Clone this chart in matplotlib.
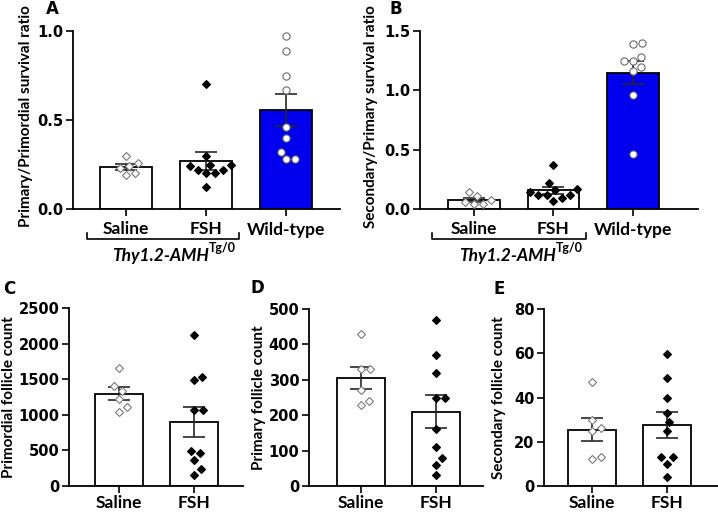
import numpy as np
import matplotlib
matplotlib.use("Agg")
import matplotlib.pyplot as plt
from matplotlib.transforms import blended_transform_factory

plt.rcParams["font.family"] = ["Lato", "DejaVu Sans"]
plt.rcParams["font.weight"] = "bold"

groups_top = ["Saline", "FSH", "Wild-type"]
groups_bottom = ["Saline", "FSH"]

# A: primary / primordial survival ratio
a_saline = [0.19, 0.20, 0.23, 0.24, 0.26, 0.30]
a_fsh = [0.70, 0.30, 0.25, 0.24, 0.245, 0.22, 0.22, 0.20, 0.20, 0.125]
a_wt = [0.97, 0.89, 0.75, 0.67, 0.46, 0.40, 0.32, 0.28, 0.28]

# B: secondary / primary survival ratio
b_saline = [0.11, 0.14, 0.06, 0.04, 0.04, 0.08]
b_fsh = [0.37, 0.22, 0.17, 0.16, 0.12, 0.12, 0.12, 0.14, 0.09, 0.065]
b_wt = [1.39, 1.40, 1.28, 1.25, 1.25, 1.20, 1.16, 0.96, 0.46]

# C-E: follicle counts
c_saline = [1655, 1410, 1340, 1220, 1110, 1045]
c_fsh = [2115, 1535, 1485, 1065, 1065, 495, 470, 370, 235, 155]
d_saline = [430, 330, 330, 270, 240, 230]
d_fsh = [470, 370, 320, 250, 250, 160, 110, 80, 60, 30]
e_saline = [47, 30, 26, 25, 13, 12]
e_fsh = [59.5, 49, 40, 33, 29, 25, 13, 13, 10, 4]

BLUE = "#0000ee"
open_diamond = dict(marker="D", ms=4.2, mfc="white", mec="#7a7a7a", mew=0.8)
black_diamond = dict(marker="D", ms=4.2, mfc="black", mec="black", mew=0.8)
open_circle = dict(marker="o", ms=5.2, mfc="white", mec="#6a6a6a", mew=0.8)


def swarm(ax, xc, ys, d=9.0):
    """spread points sideways (pixel space) so markers don't overlap"""
    ys = np.asarray(ys, dtype=float)
    pix = ax.transData.transform(np.column_stack([np.full(len(ys), xc), ys]))
    scale = ax.transData.transform([(xc + 1, 0)])[0, 0] - ax.transData.transform([(xc, 0)])[0, 0]
    placed = []
    xs = np.zeros(len(ys))
    for i in np.argsort(ys):
        y = pix[i, 1]
        cands = [0.0]
        for px, py in placed:
            dy = y - py
            if abs(dy) < d:
                dx = np.sqrt(d * d - dy * dy)
                cands += [px + dx, px - dx]
        cands.sort(key=abs)
        for c in cands:
            if all((c - px) ** 2 + (y - py) ** 2 >= d * d - 1e-6 for px, py in placed):
                break
        placed.append((c, y))
        xs[i] = xc + c / scale
    return xs


def draw_panel(ax, groups, data, colors, styles, yticks, ylabel, xlim, label_x, label_y=0.5, xpad=4):
    ax.set_xlim(*xlim)
    ax.set_ylim(yticks[0], yticks[-1])
    pos = np.arange(len(groups))
    means = [np.mean(v) for v in data]
    sems = [np.std(v, ddof=1) / np.sqrt(len(v)) for v in data]
    ax.bar(pos, means, width=0.65, color=colors, edgecolor="black", linewidth=1.3, zorder=1)
    ax.errorbar(pos, means, yerr=sems, fmt="none", ecolor="#262626", elinewidth=1.2,
                capsize=8, capthick=1.2, zorder=2)
    for p, vals, st in zip(pos, data, styles):
        xs = swarm(ax, p, vals)
        ax.plot(xs, vals, ls="none", zorder=3, clip_on=False, **st)

    ax.spines["top"].set_visible(False)
    ax.spines["right"].set_visible(False)
    ax.spines["left"].set_linewidth(1.3)
    ax.spines["bottom"].set_linewidth(1.3)
    ax.set_xticks(pos)
    ax.set_xticklabels(groups, fontsize=12.5, fontweight="bold")
    ax.set_yticks(yticks)
    ax.tick_params(axis="both", width=1.2, length=5, direction="out")
    ax.tick_params(axis="x", pad=xpad)
    ax.tick_params(axis="y", pad=2)
    ax.set_ylabel(ylabel, fontsize=11, fontweight="bold")
    ax.yaxis.label.set_va("center")
    ax.yaxis.set_label_coords(label_x, label_y)


def style_yticks(ax):
    for t in ax.get_yticklabels():
        t.set_fontfamily("DejaVu Sans")
        t.set_fontweight("bold")
        t.set_fontsize(10.5)


def genotype_bracket(ax, x0, x1):
    trans = blended_transform_factory(ax.transData, ax.transAxes)
    ax.plot([x0, x0, x1, x1], [-0.135, -0.168, -0.168, -0.135], transform=trans,
            clip_on=False, color="black", lw=1.2)
    t = ax.text(1.03, -0.262, "Thy1.2-AMH", transform=trans, ha="right", va="center",
                style="italic", fontweight="bold", fontsize=12.5)
    ax.annotate("Tg/0", xy=(1.0, 0.6), xycoords=t, ha="left", va="bottom",
                fontsize=9, fontweight="bold")


fig = plt.figure(figsize=(7.18, 5.12), dpi=100)
W, H = 718.0, 512.0

def add_axes(left, right, top, bottom):
    return fig.add_axes([left / W, 1 - bottom / H, (right - left) / W, (bottom - top) / H])

axA = add_axes(73, 340, 31, 209)
axB = add_axes(420, 698, 31, 209)
axC = add_axes(69, 243, 308, 486)
axD = add_axes(309, 483, 309, 486)
axE = add_axes(544, 718, 309, 486)

top_styles = [open_diamond, black_diamond, open_circle]
bot_styles = [open_diamond, black_diamond]

draw_panel(axA, groups_top, [a_saline, a_fsh, a_wt], ["white", "white", BLUE], top_styles,
           [0, 0.5, 1.0], "Primary/Primordial survival ratio", (-0.66, 2.67), -0.175, 0.52)
axA.set_yticklabels(["0.0", "0.5", "1.0"])
draw_panel(axB, groups_top, [b_saline, b_fsh, b_wt], ["white", "white", BLUE], top_styles,
           [0, 0.5, 1.0, 1.5], "Secondary/Primary survival ratio", (-0.68, 2.82), -0.176, 0.52)
axB.set_yticklabels(["0.0", "0.5", "1.0", "1.5"])

draw_panel(axC, groups_bottom, [c_saline, c_fsh], ["white", "white"], bot_styles,
           [0, 500, 1000, 1500, 2000, 2500], "Primordial follicle count", (-0.667, 1.653),
           -0.345, xpad=1.5)
draw_panel(axD, groups_bottom, [d_saline, d_fsh], ["white", "white"], bot_styles,
           [0, 100, 200, 300, 400, 500], "Primary follicle count", (-0.693, 1.627),
           -0.287, xpad=1.5)
draw_panel(axE, groups_bottom, [e_saline, e_fsh], ["white", "white"], bot_styles,
           [0, 20, 40, 60, 80], "Secondary follicle count", (-0.64, 1.68),
           -0.259, xpad=1.5)

for ax in (axA, axB, axC, axD, axE):
    style_yticks(ax)

genotype_bracket(axA, -0.49, 1.41)
genotype_bracket(axB, -0.53, 1.41)

for letter, x, y in [("A", 52, 9), ("B", 396, 9), ("C", 9, 289), ("D", 257, 288), ("E", 499, 289)]:
    fig.text(x / W, 1 - y / H, letter, ha="center", va="center", fontsize=12,
             fontweight="bold", fontfamily="DejaVu Sans")

fig.savefig("out.png", dpi=100)
